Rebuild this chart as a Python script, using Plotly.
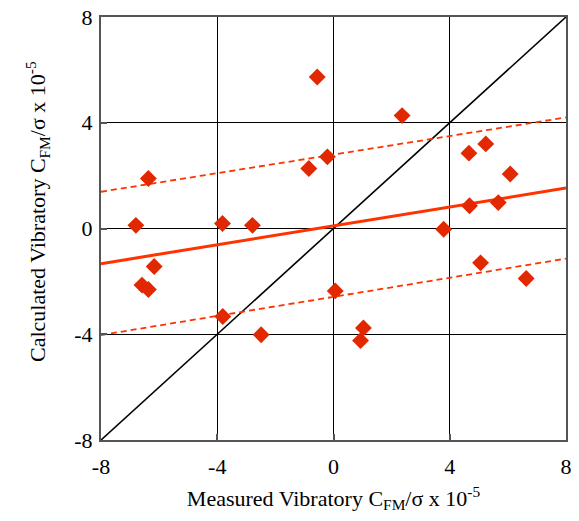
import plotly.graph_objects as go

# Measured vs calculated vibratory C_FM/sigma (x 1e-5)
measured = [-0.56, -0.21, -0.85, -6.37, -6.80, -3.82, -2.79,
            2.36, 4.66, 5.24, 6.08, 4.68, 5.67, 3.79,
            -6.17, -6.59, -6.37, -3.81, -2.49, 0.06,
            1.03, 0.93, 5.06, 6.63]
calculated = [5.73, 2.71, 2.27, 1.89, 0.12, 0.19, 0.12,
              4.27, 2.85, 3.20, 2.06, 0.86, 0.98, -0.03,
              -1.44, -2.14, -2.31, -3.33, -4.02, -2.36,
              -3.76, -4.24, -1.30, -1.89]

line_x = [-8, 8]
identity_y = [-8, 8]
fit_y = [-1.33, 1.53]
upper_y = [1.39, 4.20]
lower_y = [-4.03, -1.14]

tick_vals = [-8, -4, 0, 4, 8]
tick_text = ["-8", "-4", "0", "4", "8"]

x_title = "Measured Vibratory C<sub>FM</sub>/σ x 10<sup>-5</sup>"
y_title = "Calculated Vibratory C<sub>FM</sub>/σ x 10<sup>-5</sup>"

red_marker = "#E22800"
red_line = "#FF3300"
font_family = "Liberation Serif"

fig = go.Figure()
fig.add_trace(go.Scatter(x=line_x, y=identity_y, mode="lines",
                         line=dict(color="black", width=1.6), showlegend=False))
fig.add_trace(go.Scatter(x=line_x, y=upper_y, mode="lines",
                         line=dict(color=red_line, width=1.8, dash="6px,4px"), showlegend=False))
fig.add_trace(go.Scatter(x=line_x, y=lower_y, mode="lines",
                         line=dict(color=red_line, width=1.8, dash="6px,4px"), showlegend=False))
fig.add_trace(go.Scatter(x=line_x, y=fit_y, mode="lines",
                         line=dict(color=red_line, width=3), showlegend=False))
fig.add_trace(go.Scatter(x=measured, y=calculated, mode="markers",
                         marker=dict(symbol="diamond", size=13, color=red_marker,
                                     line=dict(width=0)),
                         showlegend=False))

axis_common = dict(
    range=[-8, 8], tickvals=tick_vals, ticktext=tick_text,
    showgrid=True, gridcolor="black", gridwidth=1,
    zeroline=True, zerolinecolor="black", zerolinewidth=1,
    showline=True, linecolor="#555555", linewidth=2, mirror=True,
    ticks="inside", ticklen=6, tickcolor="#555555", tickwidth=2,
    tickfont=dict(family=font_family, size=22, color="black"),
    fixedrange=True, automargin=False,
)

fig.update_layout(
    width=579, height=521,
    margin=dict(l=101, r=13, t=17, b=81),
    paper_bgcolor="white", plot_bgcolor="white",
    font=dict(family=font_family, color="black"),
    xaxis=dict(**axis_common, ticklabelstandoff=6,
               title=dict(text=x_title,
                          font=dict(family=font_family, size=22, color="black"),
                          standoff=12)),
    yaxis=dict(**axis_common, ticklabelstandoff=2),
    annotations=[dict(text=y_title, textangle=-90,
                      xref="paper", yref="paper",
                      x=(37 - 101) / 465, y=(440 - 212) / 423,
                      xanchor="center", yanchor="middle", showarrow=False,
                      font=dict(family=font_family, size=22, color="black"))],
)

fig.write_html("out.html")
